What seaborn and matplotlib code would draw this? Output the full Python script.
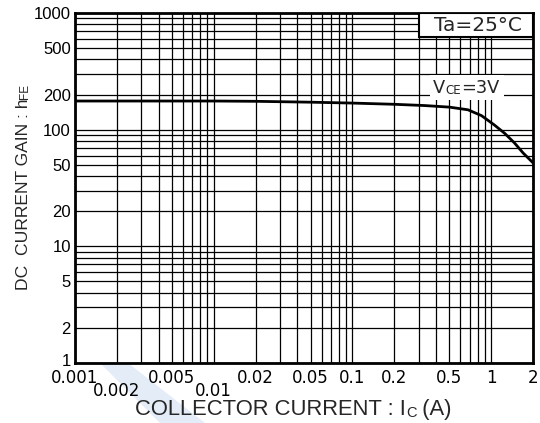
import numpy as np
import pandas as pd
import matplotlib
matplotlib.use('Agg')
import matplotlib.pyplot as plt
import matplotlib.ticker as mticker
import matplotlib.transforms as mtrans
from matplotlib.patches import Rectangle, Polygon
import seaborn as sns

# hFE vs Ic (VCE = 3V, Ta = 25C)
ic = [0.001, 0.002, 0.005, 0.01, 0.02, 0.05, 0.1, 0.2, 0.33, 0.5, 0.68, 0.85, 1.05, 1.25, 1.47, 1.7, 2.0]
hfe = [176, 176, 176, 176, 175, 172, 169, 165, 161, 156, 148, 132, 110, 93, 77, 63, 52]

x_ticks = [0.001, 0.002, 0.005, 0.01, 0.02, 0.05, 0.1, 0.2, 0.5, 1, 2]
x_labels = ['0.001', '0.002', '0.005', '0.01', '0.02', '0.05', '0.1', '0.2', '0.5', '1', '2']
y_ticks = [1, 2, 5, 10, 20, 50, 100, 200, 500, 1000]
y_labels = ['1', '2', '5', '10', '20', '50', '100', '200', '500', '1000']

sns.set_style('white')
plt.rcParams['font.family'] = ['Liberation Sans', 'DejaVu Sans']
WIDE = ['DejaVu Sans']

df = pd.DataFrame({'ic': ic, 'hfe': hfe})

fig = plt.figure(figsize=(5.4, 4.23), dpi=100)
ax = fig.add_axes([75 / 540, 1 - 363 / 423, 458 / 540, 350 / 423])

# faint watermark stripe under the axis
fig.patches.append(Polygon([[100 / 540, 1 - 363 / 423], [128 / 540, 1 - 363 / 423],
                            [205 / 540, 0], [160 / 540, 0]],
                           closed=True, transform=fig.transFigure,
                           facecolor='#e4ecf8', edgecolor='none', zorder=-1))

sns.lineplot(data=df, x='ic', y='hfe', color='black', linewidth=2.0, ax=ax, zorder=5)

ax.set_xscale('log')
ax.set_yscale('log')
ax.set_xlim(0.001, 2)
ax.set_ylim(1, 1000)

ax.xaxis.set_major_locator(mticker.FixedLocator(x_ticks))
ax.xaxis.set_minor_locator(mticker.LogLocator(subs=np.arange(1, 10)))
ax.yaxis.set_major_locator(mticker.FixedLocator(y_ticks))
ax.yaxis.set_minor_locator(mticker.LogLocator(subs=np.arange(1, 10)))
ax.set_xticklabels(x_labels, family=WIDE, fontsize=12)
ax.set_yticklabels(y_labels, fontsize=12)
ax.xaxis.set_minor_formatter(mticker.NullFormatter())
ax.yaxis.set_minor_formatter(mticker.NullFormatter())

ax.grid(which='both', color='black', linewidth=0.9)
ax.tick_params(which='both', length=0, colors='black')
ax.tick_params(axis='x', pad=4)
ax.tick_params(axis='y', pad=3)
# staggered labels for 0.002 and 0.01
for i, t in enumerate(ax.xaxis.get_major_ticks()):
    if x_labels[i] in ('0.002', '0.01'):
        t.set_pad(13.5)
# the "1" on the y axis sits a little above the corner
lbl = ax.yaxis.get_major_ticks()[0].label1
lbl.set_transform(lbl.get_transform() + mtrans.ScaledTranslation(0, 3 / 100, fig.dpi_scale_trans))

for s in ax.spines.values():
    s.set_linewidth(2)
    s.set_color('black')
ax.set_xlabel('')
ax.set_ylabel('')

# x label, small-caps style subscript on the baseline
t = fig.text(135 / 540, 1 - 415 / 423, 'COLLECTOR CURRENT : I', fontsize=15.8,
             ha='left', va='baseline')
t = ax.annotate('C', xy=(1, 0), xycoords=t, fontsize=10.5, ha='left', va='bottom')
ax.annotate(' (A)', xy=(1, 0), xycoords=t, fontsize=15.8, ha='left', va='bottom')

# y label, rotated
t = fig.text(28 / 540, 1 - 290 / 423, 'DC  CURRENT GAIN : h', fontsize=12.6,
             rotation=90, rotation_mode='anchor', ha='left', va='baseline')
ax.annotate('FE', xy=(1, 1), xycoords=t, fontsize=8.5, rotation=90,
            rotation_mode='anchor', ha='left', va='bottom')

# Ta box in the upper right corner
ax.add_patch(Rectangle((0.751, 0.931), 0.249, 0.069, transform=ax.transAxes,
                       facecolor='white', edgecolor='black', linewidth=1.5, zorder=6))
ax.text(0.879, 0.949, 'Ta=25°C', transform=ax.transAxes, ha='center', va='baseline',
        family=WIDE, fontsize=14.5, zorder=7)

# VCE label on a white patch
ax.add_patch(Rectangle((0.775, 0.751), 0.162, 0.071, transform=ax.transAxes,
                       facecolor='white', edgecolor='none', zorder=6))
t = ax.text(0.782, 0.771, 'V', transform=ax.transAxes, ha='left', va='baseline',
            family=WIDE, fontsize=12.8, zorder=7)
t = ax.annotate('CE', xy=(1, 0), xycoords=t, family=WIDE, fontsize=8.6,
                ha='left', va='bottom', zorder=7)
ax.annotate('=3V', xy=(1, 0), xycoords=t, family=WIDE, fontsize=12.8,
            ha='left', va='bottom', zorder=7)

fig.savefig('out.png', dpi=100)
